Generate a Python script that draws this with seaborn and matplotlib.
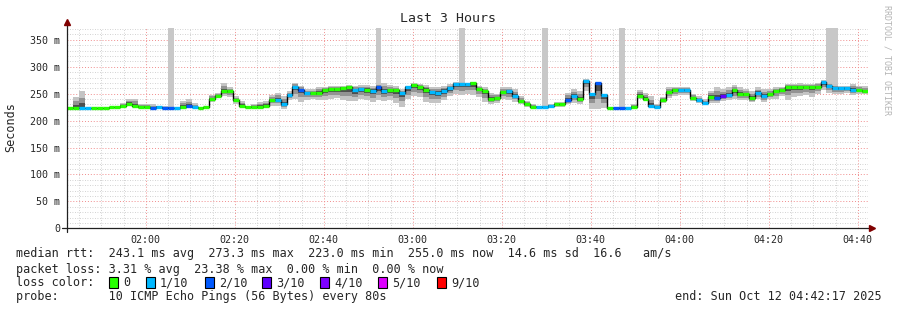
import numpy as np
import pandas as pd
import matplotlib
matplotlib.use("Agg")
import matplotlib.pyplot as plt
import seaborn as sns
from matplotlib.patches import Rectangle
from matplotlib.ticker import MultipleLocator, FuncFormatter

# ---------------- data ----------------
start_time = "01:42:17"      # graph start
step_seconds = 80            # probe step
n_minutes = 180              # last 3 hours

median_ms = [
    223, 223, 223, 223, 223, 223, 223, 224.5, 224.5, 228,
    231, 227, 225, 226, 224, 226, 224, 224, 223, 226,
    228, 225, 223, 225, 240, 246, 255, 255, 238, 228,
    225, 225, 226, 228, 238, 239, 230, 247.6, 263, 257,
    251, 252, 251, 256, 259, 258.5, 260, 261.5, 256, 259,
    257, 255, 261.5, 255, 256, 256, 251, 261.5, 266, 263,
    257, 253, 251, 255, 260, 268, 268, 268, 269, 259,
    255, 240, 241.5, 253, 255, 246.5, 236.5, 230, 226, 226,
    225, 227.5, 230, 230, 238, 246.5, 240, 273.3, 249, 269,
    247.6, 223.5, 223.5, 223.5, 223.5, 226, 246.5, 240, 227.5, 226,
    238.4, 253, 257, 257, 257, 241.5, 238.4, 232, 244.5, 242.6,
    245.5, 247.6, 256, 249.5, 249.5, 242.6, 250.7, 246.5, 248.8, 255,
    256, 261.5, 261.5, 261.5, 262.5, 261.5, 263, 271, 265, 260,
    260, 260, 257, 257, 255,
]

lost_pings = [
    0, 0, 1, 1, 0, 0, 0, 0, 0, 0,
    0, 0, 0, 0, 2, 1, 2, 2, 1, 0,
    2, 1, 0, 0, 0, 0, 0, 0, 0, 0,
    0, 0, 0, 0, 0, 1, 1, 1, 1, 2,
    1, 0, 0, 0, 0, 0, 0, 0, 1, 1,
    0, 1, 2, 1, 0, 0, 1, 1, 0, 0,
    0, 1, 1, 1, 1, 1, 1, 1, 0, 0,
    0, 0, 0, 0, 1, 1, 0, 0, 0, 1,
    1, 1, 0, 0, 2, 1, 0, 1, 1, 2,
    1, 0, 2, 2, 1, 0, 0, 0, 1, 1,
    0, 0, 0, 1, 1, 0, 1, 1, 0, 2,
    3, 1, 0, 0, 0, 0, 1, 1, 0, 0,
    0, 0, 0, 0, 0, 0, 0, 1, 1, 1,
    1, 1, 1, 0, 0,
]

smoke_lo = [
    223, 223, 223, 223, 223, 223, 223, 223, 223, 226,
    227, 225, 223, 224, 222, 223, 222, 222, 223, 224,
    224, 223, 223, 223, 235, 243, 245, 244, 231, 225,
    223, 223, 223, 225, 228, 228, 222, 238, 240, 235,
    238, 240, 238, 238, 240, 242, 238, 236, 236, 240,
    238, 235, 238, 236, 238, 232, 226, 240, 245, 243,
    235, 232, 232, 238, 245, 250, 248, 250, 248, 244,
    235, 230, 232, 240, 238, 235, 230, 226, 224, 224,
    223, 223, 225, 226, 230, 232, 230, 255, 222, 222,
    223, 223, 222, 222, 222, 224, 240, 237, 225, 224,
    232, 242, 245, 248, 248, 236, 232, 229, 232, 232,
    236, 238, 240, 238, 238, 234, 240, 234, 240, 240,
    245, 238, 244, 245, 248, 244, 250, 256, 252, 250,
    250, 252, 248, 250, 250,
]

smoke_hi = [
    223, 244, 255, 224, 224, 224, 224, 226, 226, 232,
    240, 241, 230, 230, 230, 228, 227, 227, 225, 236,
    240, 232, 225, 226, 248, 251, 270, 262, 245, 236,
    228, 230, 234, 237, 248, 252, 245, 255, 270, 265,
    258, 258, 262, 262, 265, 264, 265, 266, 265, 266,
    266, 265, 270, 270, 266, 264, 258, 265, 270, 268,
    266, 262, 262, 265, 268, 272, 272, 270, 272, 264,
    262, 252, 250, 262, 262, 258, 245, 236, 230, 228,
    228, 230, 235, 235, 252, 258, 255, 278, 252, 272,
    250, 226, 225, 225, 225, 230, 256, 252, 245, 230,
    244, 262, 262, 262, 262, 250, 245, 240, 255, 262,
    258, 262, 266, 262, 258, 255, 262, 258, 258, 262,
    262, 268, 268, 270, 268, 268, 270, 275, 270, 268,
    265, 265, 268, 265, 264,
]

# steps where a single ping went off the top of the graph
spike_steps = [17, 52, 66, 80, 93, 128, 129]

loss_labels = ["0", "1/10", "2/10", "3/10", "4/10", "5/10", "9/10"]
loss_colors = ["#26ff00", "#00b8ff", "#0059ff", "#5e00ff", "#7e00ff", "#dd00ff", "#ff0000"]

y_ticks = [0, 50, 100, 150, 200, 250, 300, 350]

title = "Last 3 Hours"
ylabel = "Seconds"
stat_rtt = "median rtt:  243.1 ms avg  273.3 ms max  223.0 ms min  255.0 ms now  14.6 ms sd  16.6   am/s"
stat_loss = "packet loss: 3.31 % avg  23.38 % max  0.00 % min  0.00 % now"
loss_title = "loss color:"
probe_text = "probe:       10 ICMP Echo Pings (56 Bytes) every 80s"
end_text = "end: Sun Oct 12 04:42:17 2025"
credit = "RRDTOOL / TOBI OETIKER"

# ---------------- figure ----------------
sns.set_style("white")
plt.rcParams["font.family"] = ["DejaVu Sans Mono"]

W, H = 897, 310
fig = plt.figure(figsize=(W / 100, H / 100), dpi=100)
fig.patch.set_facecolor("white")
L, R, T, B = 67, 868, 28, 228.3
ax = fig.add_axes([L / W, 1 - B / H, (R - L) / W, (B - T) / H])
ax.set_facecolor("white")

hh, mm, ss = [int(v) for v in start_time.split(":")]
t0 = hh * 60 + mm + ss / 60.0
step_min = step_seconds / 60.0
n = len(median_ms)
edges = t0 + np.arange(n + 1) * step_min

med = np.array(median_ms, dtype=float)
lo = np.array(smoke_lo, dtype=float)
hi = np.array(smoke_hi, dtype=float)
YMAX = 372

def ext(a):
    return np.append(a, a[-1])

# smoke
ax.fill_between(edges, ext(lo), ext(hi), step="post", color="#c4c4c4", lw=0, zorder=2)
mid_lo = med - 0.62 * (med - lo)
mid_hi = med + 0.62 * (hi - med)
ax.fill_between(edges, ext(mid_lo), ext(mid_hi), step="post", color="#939393", lw=0, zorder=2.1)
in_lo = med - 0.3 * (med - lo)
in_hi = med + 0.3 * (hi - med)
ax.fill_between(edges, ext(in_lo), ext(in_hi), step="post", color="#4e4e4e", lw=0, zorder=2.2)
for i in spike_steps:
    ax.fill_between([edges[i], edges[i + 1]], [hi[i], hi[i]], [YMAX, YMAX],
                    color="#c8c8c8", lw=0, zorder=2)

# median line (black steps)
df = pd.DataFrame({"t": edges, "rtt": ext(med)})
sns.lineplot(data=df, x="t", y="rtt", drawstyle="steps-post", color="black",
             lw=1.0, estimator=None, sort=False, ax=ax, zorder=3)

# loss-coloured median segments
def loss_idx(k):
    if k <= 4:
        return k
    if k <= 8:
        return 5
    return 6
seg_colors = [loss_colors[loss_idx(k)] for k in lost_pings]
ax.hlines(med, edges[:-1], edges[1:], colors=seg_colors, lw=2.4, zorder=4,
          capstyle="butt")

# axes / grid
ax.set_xlim(t0, t0 + n_minutes)
ax.set_ylim(0, YMAX)
ax.xaxis.set_major_locator(MultipleLocator(20))
ax.xaxis.set_minor_locator(MultipleLocator(5))
ax.yaxis.set_major_locator(MultipleLocator(50))
ax.yaxis.set_minor_locator(MultipleLocator(10))
ax.xaxis.set_major_formatter(FuncFormatter(lambda v, p: f"{int(v // 60):02d}:{int(round(v % 60)):02d}"))
ax.set_yticks(y_ticks)
ax.set_yticklabels([("0" if v == 0 else f"{v} m") for v in y_ticks])
ax.grid(which="major", color="#f08c8c", linestyle=(0, (1, 2)), lw=0.7)
ax.grid(which="minor", color="#c4c4c4", linestyle=(0, (1, 2)), lw=0.6)
ax.set_axisbelow(True)
ax.tick_params(axis="both", which="major", labelsize=7.2, length=2, width=0.6,
               color="#333333", pad=3)
ax.tick_params(axis="both", which="minor", length=1.2, width=0.5, color="#666666")
for s in ax.spines.values():
    s.set_visible(False)
ax.set_xlabel("")
ax.set_ylabel("")

# axis lines with arrows
ax.plot([-5 / 801, 1 + 2 / 801], [0, 0], transform=ax.transAxes, color="#202020",
        lw=0.9, clip_on=False, zorder=6)
ax.plot([0, 0], [-4 / 200.3, 1 + 4 / 200.3], transform=ax.transAxes, color="#202020",
        lw=0.9, clip_on=False, zorder=6)
ax.plot([1 + 4 / 801], [0], transform=ax.transAxes, marker=">", color="#800000",
        ms=4, clip_on=False, zorder=7)
ax.plot([0], [1 + 6 / 200.3], transform=ax.transAxes, marker="^", color="#800000",
        ms=4, clip_on=False, zorder=7)

# texts
def fx(x):
    return x / W

def fy(y):
    return 1 - y / H

fig.text(fx(448), fy(19), title, ha="center", va="center", fontsize=9.5)
fig.text(fx(11), fy(127), ylabel, ha="center", va="center", rotation=90, fontsize=8.5)
fig.text(fx(887), fy(60), credit, ha="center", va="center", rotation=270,
         fontsize=6, color="#b4b4b4")

fs = 8.5
fig.text(fx(16), fy(254), stat_rtt, ha="left", va="center", fontsize=fs)
fig.text(fx(16), fy(269), stat_loss, ha="left", va="center", fontsize=fs)
fig.text(fx(16), fy(282.5), loss_title, ha="left", va="center", fontsize=fs)
fig.text(fx(16), fy(296.5), probe_text, ha="left", va="center", fontsize=fs)
fig.text(fx(882), fy(296.5), end_text, ha="right", va="center", fontsize=fs)

box_x = [109, 146, 205, 262, 320, 378, 437]
for bx, lab, col in zip(box_x, loss_labels, loss_colors):
    fig.add_artist(Rectangle((fx(bx), fy(288)), 9 / W, 11 / H, transform=fig.transFigure,
                             facecolor=col, edgecolor="black", lw=0.8))
    fig.text(fx(bx + 14), fy(282.5), lab, ha="left", va="center", fontsize=fs)

fig.savefig("out.png", dpi=100, facecolor="white")
